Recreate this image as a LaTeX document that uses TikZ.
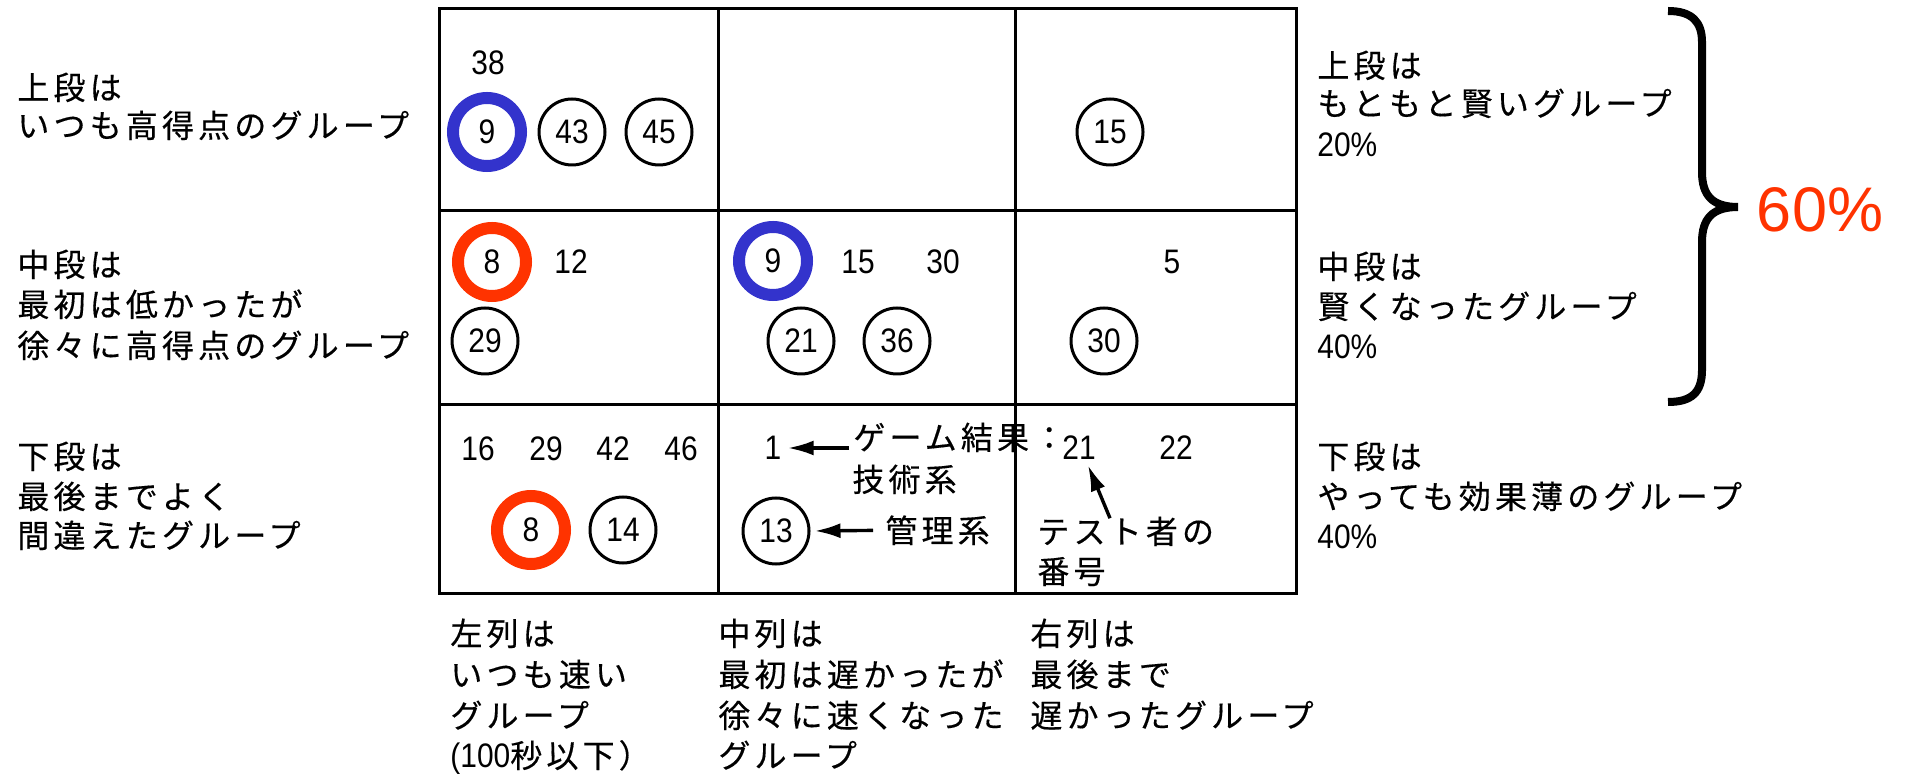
\documentclass[tikz,border=0pt]{standalone}
\usepackage{fontspec}
\newfontfamily\jpf[LetterSpace=13,FakeBold=0.4]{Noto Sans CJK JP}
\newfontfamily\numf[FakeStretch=0.88]{Liberation Sans}
\newfontfamily\bigf{Liberation Sans}
\newcommand\JPfont{\jpf\fontsize{16pt}{20pt}\selectfont}
\newcommand\NUMfont{\numf\fontsize{17pt}{20pt}\selectfont}
\newcommand\BIGfont{\bigf\fontsize{31.5pt}{36pt}\selectfont}
\usetikzlibrary{arrows.meta}
\definecolor{ringblue}{RGB}{51,51,204}
\definecolor{ringred}{RGB}{255,51,0}
\begin{document}
\begin{tikzpicture}[x=0.5pt,y=-0.5pt,
  jp/.style={font=\JPfont, inner sep=0pt, anchor=base west},
  num/.style={font=\NUMfont, inner sep=0pt},
  numl/.style={font=\NUMfont, inner sep=0pt, anchor=base west},
  circ/.style={num, circle, draw, line width=1.5pt, minimum size=33pt},
  ringb/.style={num, circle, draw=ringblue, line width=6pt, minimum size=34pt},
  ringr/.style={num, circle, draw=ringred, line width=6pt, minimum size=34pt},
  arr/.style={line width=1.7pt, -{Latex[length=13pt,width=7.5pt]}},
  gridline/.style={line width=1.5pt}]
\useasboundingbox[fill=white] (0,0) rectangle (1905,774);

% grid
\draw[gridline] (439,9) rectangle (1296,593);
\draw[gridline] (439,211) -- (1296,211);
\draw[gridline] (439,405) -- (1296,405);
\draw[gridline] (718,9) -- (718,593);
\draw[gridline] (1015,9) -- (1015,593);

% row 1
\node[num] (n38) at (488,63) {38};
\node[ringb] (b9a) at (487,132) {9};
\node[circ] (c43) at (572,132) {43};
\node[circ] (c45) at (659,132) {45};
\node[circ] (c15) at (1110,132) {15};

% row 2
\node[ringr] (r8a) at (492,262) {8};
\node[num] (n12) at (571,262) {12};
\node[circ] (c29) at (485,341) {29};
\node[ringb] (b9b) at (773,261) {9};
\node[num] (n15) at (858,262) {15};
\node[num] (n30) at (943,262) {30};
\node[circ] (c21) at (801,341) {21};
\node[circ] (c36) at (897,341) {36};
\node[num] (n5) at (1172,262) {5};
\node[circ] (c30) at (1104,341) {30};

% row 3
\node[num] (n16) at (478,449) {16};
\node[num] (n29) at (546,449) {29};
\node[num] (n42) at (613,449) {42};
\node[num] (n46) at (681,449) {46};
\node[ringr] (r8b) at (531,530) {8};
\node[circ] (c14) at (623,530) {14};
\node[num] (n1) at (773,448) {1};
\node[circ] (c13) at (776,531) {13};
\node[jp] (gk) at (853,449.5) {ゲーム結果：};
\node[jp] (gj) at (852,491.5) {技術系};
\node[jp] (kanri) at (885,542.5) {管理系};
\node[num] (n21) at (1079,448) {21};
\node[num] (n22) at (1176,448) {22};
\node[jp] (tsha) at (1037,543.5) {テスト者の};
\node[jp] (bango) at (1037,583.5) {番号};

\draw[arr, shorten <=2pt, shorten >=3pt] (n1 -| gk.west) -- (n1.east);
\draw[arr, shorten <=6pt, shorten >=2pt] (kanri.west) -- (c13.east);
\draw[arr] ([xshift=36.5pt,yshift=-1pt]tsha.north west) -- ([xshift=4.5pt,yshift=-2.5pt]n21.south);

% left labels
\node[jp] (l1a) at (17,99.5) {上段は};
\node[jp] (l1b) at (17,137.5) {いつも高得点のグループ};
\node[jp] (l2a) at (17,276.5) {中段は};
\node[jp] (l2b) at (17,316.5) {最初は低かったが};
\node[jp] (l2c) at (17,357.5) {徐々に高得点のグループ};
\node[jp] (l3a) at (17,468.5) {下段は};
\node[jp] (l3b) at (17,508.5) {最後までよく};
\node[jp] (l3c) at (17,547.5) {間違えたグループ};

% right labels
\node[jp] (r1a) at (1317,77.5) {上段は};
\node[jp] (r1b) at (1317,115.5) {もともと賢いグループ};
\node[numl] (r1c) at (1317,157) {20\%};
\node[jp] (r2a) at (1317,278.5) {中段は};
\node[jp] (r2b) at (1317,318.5) {賢くなったグループ};
\node[numl] (r2c) at (1317,359) {40\%};
\node[jp] (r3a) at (1317,468.5) {下段は};
\node[jp] (r3b) at (1317,508.5) {やっても効果薄のグループ};
\node[numl] (r3c) at (1317,548) {40\%};

% bottom labels
\node[jp] (b1a) at (450,645.5) {左列は};
\node[jp] (b1b) at (450,686.5) {いつも速い};
\node[jp] (b1c) at (450,727.5) {グループ};
\node[jp] (b1d) at (450,767.5) {{\NUMfont (100}秒以下）};
\node[jp] (b2a) at (718,645.5) {中列は};
\node[jp] (b2b) at (718,686.5) {最初は遅かったが};
\node[jp] (b2c) at (718,727.5) {徐々に速くなった};
\node[jp] (b2d) at (718,767.5) {グループ};
\node[jp] (b3a) at (1030,645.5) {右列は};
\node[jp] (b3b) at (1030,686.5) {最後まで};
\node[jp] (b3c) at (1030,727.5) {遅かったグループ};

% brace and 60%
\draw[line width=4pt] (1668,11) .. controls (1692,11) and (1702,22) .. (1702,42)
  -- (1702,172) .. controls (1702,195) and (1712,207) .. (1738,207)
  .. controls (1712,207) and (1702,219) .. (1702,242)
  -- (1702,370) .. controls (1702,392) and (1692,402) .. (1668,402);
\node[font=\BIGfont, text=ringred, inner sep=0pt] (sixty) at (1820,210) {60\%};
\end{tikzpicture}
\end{document}
